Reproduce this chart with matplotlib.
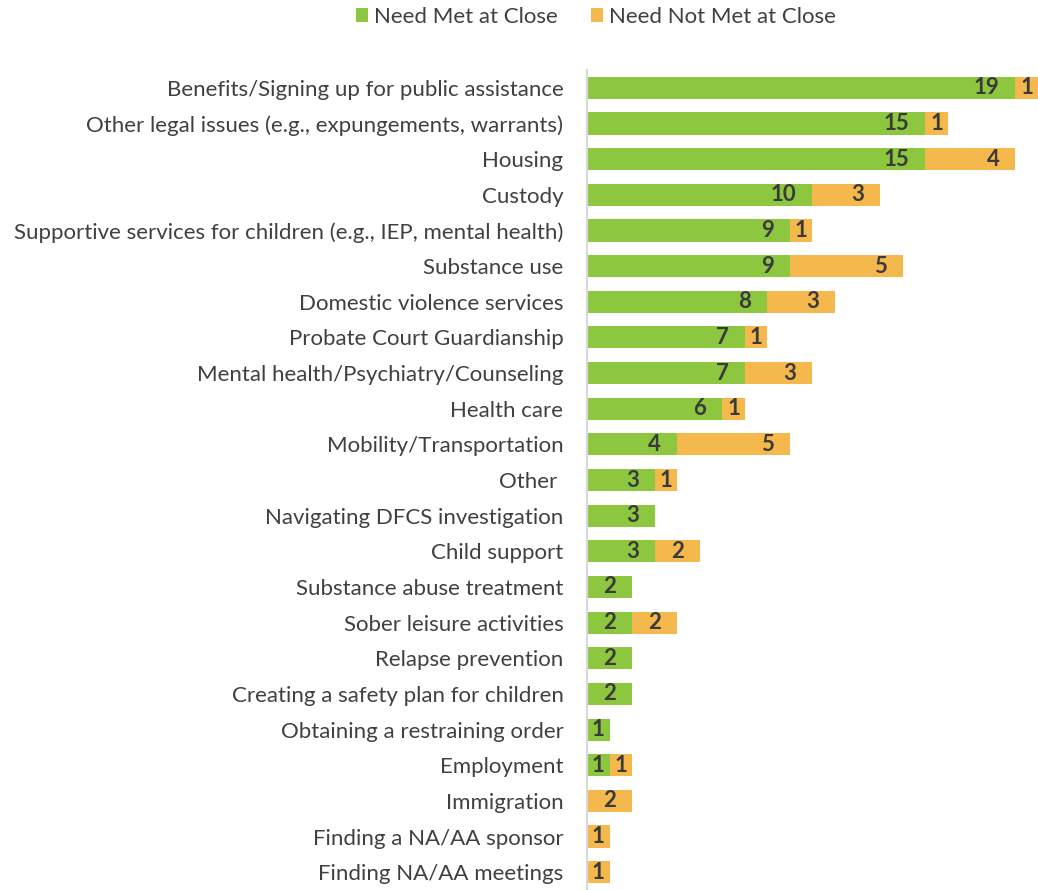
import matplotlib
matplotlib.use("Agg")
import matplotlib.pyplot as plt
from matplotlib.patches import Patch

categories = [
    "Benefits/Signing up for public assistance",
    "Other legal issues (e.g., expungements, warrants)",
    "Housing",
    "Custody",
    "Supportive services for children (e.g., IEP, mental health)",
    "Substance use",
    "Domestic violence services",
    "Probate Court Guardianship",
    "Mental health/Psychiatry/Counseling",
    "Health care",
    "Mobility/Transportation",
    "Other ",
    "Navigating DFCS investigation",
    "Child support",
    "Substance abuse treatment",
    "Sober leisure activities",
    "Relapse prevention",
    "Creating a safety plan for children",
    "Obtaining a restraining order",
    "Employment",
    "Immigration",
    "Finding a NA/AA sponsor",
    "Finding NA/AA meetings",
]
need_met = [19, 15, 15, 10, 9, 9, 8, 7, 7, 6, 4, 3, 3, 3, 2, 2, 2, 2, 1, 1, 0, 0, 0]
need_not_met = [1, 1, 4, 3, 1, 5, 3, 1, 3, 1, 5, 1, 0, 2, 0, 2, 0, 0, 0, 1, 2, 1, 1]
series_names = ["Need Met at Close", "Need Not Met at Close"]

GREEN = "#8DC63F"
ORANGE = "#F4B84C"
TEXT = "#404040"
FONT = "Lato"
FS = 16

plt.rcParams["font.family"] = [FONT, "DejaVu Sans"]

fig = plt.figure(figsize=(10.38, 8.90), dpi=100)
ax = fig.add_axes([0.5655, 0.0, 0.4345, 0.9213])

y = list(range(len(categories)))
bar_h = 0.62
ax.barh(y, need_met, height=bar_h, color=GREEN, edgecolor="none")
ax.barh(y, need_not_met, left=need_met, height=bar_h, color=ORANGE, edgecolor="none")

ax.set_xlim(0, 20)
ax.set_ylim(len(categories) - 0.5, -0.5)
ax.set_yticks(y)
ax.set_yticklabels(categories, fontsize=FS, color=TEXT)
ax.tick_params(axis="y", length=0, pad=17)
ax.set_xticks([])
for s in ["top", "right", "bottom"]:
    ax.spines[s].set_visible(False)
ax.spines["left"].set_color("#D9D9D9")
ax.spines["left"].set_linewidth(1.6)

# value labels: placed near the inside end of each segment,
# falling back to the centre when the segment is short
fig.canvas.draw()
renderer = fig.canvas.get_renderer()
pad_px = 16
for i in y:
    segs = [(0, need_met[i]), (need_met[i], need_not_met[i])]
    for start, val in segs:
        if val <= 0:
            continue
        end = start + val
        x0 = ax.transData.transform((start, i))[0]
        x1 = ax.transData.transform((end, i))[0]
        t = ax.text(end, i, str(val), fontsize=FS, fontweight="bold",
                    color="#3A3A3A", ha="center", va="center")
        w = t.get_window_extent(renderer).width
        shift = min(pad_px + w / 2, (x1 - x0) / 2)
        cx = ax.transData.inverted().transform((x1 - shift, 0))[0]
        t.set_x(cx)

handles = [Patch(facecolor=GREEN, edgecolor="none"),
           Patch(facecolor=ORANGE, edgecolor="none")]
leg = fig.legend(handles, series_names, loc="center", bbox_to_anchor=(0.574, 0.981),
                 ncol=2, frameon=False, fontsize=FS, handlelength=0.55,
                 handleheight=0.55, handletextpad=0.25, columnspacing=1.5)
for txt in leg.get_texts():
    txt.set_color(TEXT)

fig.savefig("out.png", dpi=100)
